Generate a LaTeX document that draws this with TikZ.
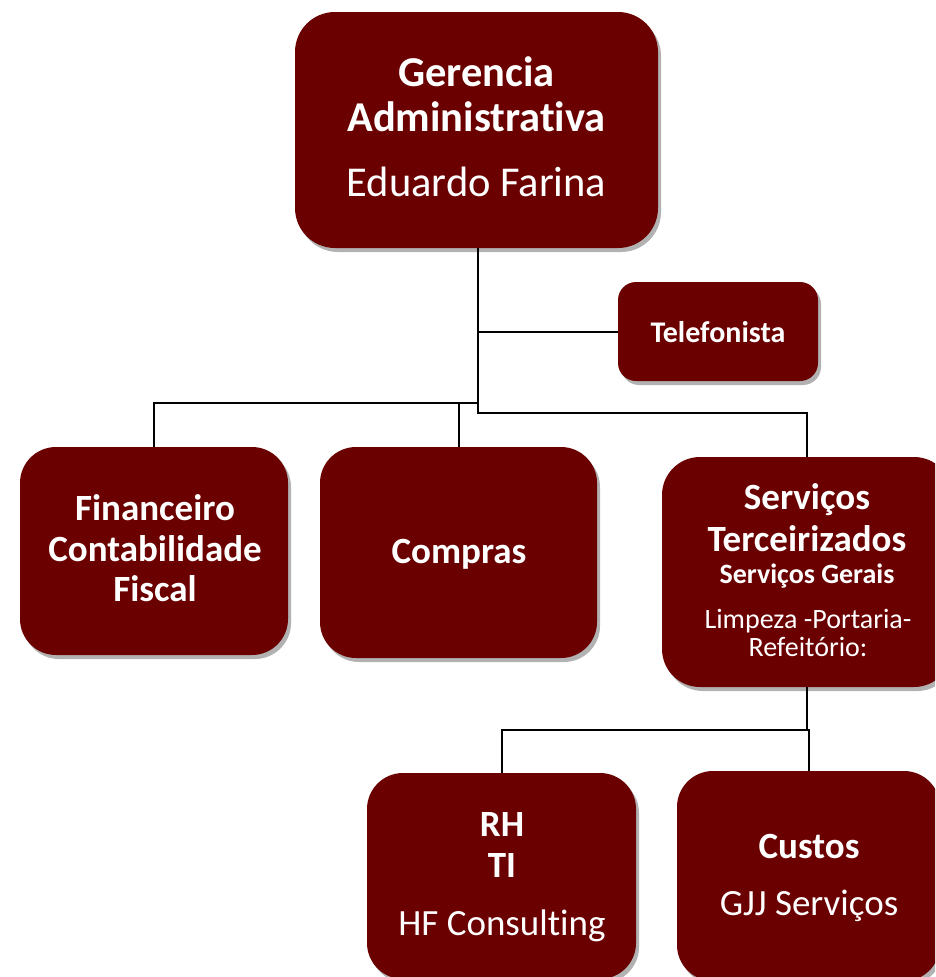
\documentclass[tikz,border=0pt]{standalone}
\usepackage{fontspec}
\setmainfont{Carlito}[Ligatures=NoCommon]
\usetikzlibrary{shadows}
\definecolor{boxred}{HTML}{6B0000}
\begin{document}
\begin{tikzpicture}[x=1pt,y=-1pt,
  box/.style={fill=boxred, draw=none, inner sep=0pt,
    drop shadow={shadow xshift=3pt, shadow yshift=-4pt, opacity=0.3, fill=black}},
  txt/.style={text=white, inner sep=0pt, anchor=base},
  big/.style={font=\fontsize{42.5}{50}\selectfont\bfseries},
  bigr/.style={font=\fontsize{42.5}{50}\selectfont},
  mid/.style={font=\fontsize{37}{44}\selectfont\bfseries},
  midr/.style={font=\fontsize{37}{44}\selectfont},
  sml/.style={font=\fontsize{28}{34}\selectfont\bfseries},
  smlr/.style={font=\fontsize{28}{34}\selectfont},
  tels/.style={font=\fontsize{30}{36}\selectfont\bfseries},
  conn/.style={draw=black, line width=2pt}]
\useasboundingbox (0,0) rectangle (935,977);
\clip (0,0) rectangle (935,977);
% boxes
\node[box, rounded corners=40pt, minimum width=363pt, minimum height=236pt] (top) at (476.5,130) {};
\node[box, rounded corners=18pt, minimum width=200pt, minimum height=99pt] (tel) at (718,331.5) {};
\node[box, rounded corners=36pt, minimum width=268pt, minimum height=208pt] (fin) at (154,551) {};
\node[box, rounded corners=36pt, minimum width=277pt, minimum height=211pt] (comp) at (458.5,552.5) {};
\node[box, rounded corners=38pt, minimum width=290pt, minimum height=230pt] (serv) at (807,572) {};
\node[box, rounded corners=36pt, minimum width=269pt, minimum height=206pt] (rh) at (501.5,876) {};
\node[box, rounded corners=36pt, minimum width=263pt, minimum height=210pt] (cus) at (808.5,876) {};
% texts
\node[txt, big] (t1) at (476.5,86) {Gerencia};
\node[txt, big] (t2) at (476.5,131.5) {Administrativa};
\node[txt, bigr] (t3) at (476.5,196.5) {Eduardo Farina};
\node[txt, tels] (te1) at (718,342) {Telefonista};
\node[txt, mid] (f1) at (155,520) {Financeiro};
\node[txt, mid] (f2) at (155,561.5) {Contabilidade};
\node[txt, mid] (f3) at (155,601.5) {Fiscal};
\node[txt, mid] (c1) at (459,563) {Compras};
\node[txt, mid] (s1) at (807,509) {Serviços};
\node[txt, mid] (s2) at (807,551) {Terceirizados};
\node[txt, sml] (s3) at (807,583) {Serviços Gerais};
\node[txt, smlr] (s4) at (808,628) {Limpeza -Portaria-};
\node[txt, smlr] (s5) at (808,656) {Refeitório:};
\node[txt, mid] (r1) at (502,836.5) {RH};
\node[txt, mid] (r2) at (502,877.5) {TI};
\node[txt, midr] (r3) at (502,935.5) {HF Consulting};
\node[txt, mid] (k1) at (809,858) {Custos};
\node[txt, midr] (k2) at (809,915) {GJJ Serviços};
% connectors
\coordinate (ja) at (478,403);
\coordinate (jb) at (478,413);
\coordinate (jc) at (807,730);
\draw[conn] (top.south -| ja) -- (jb) -- (jb -| serv.north) -- (serv.north);
\draw[conn] (ja |- tel.west) -- (tel.west);
\draw[conn] (fin.north) -- (fin.north |- ja) -- (ja);
\draw[conn] (comp.north) -- (comp.north |- ja);
\draw[conn] (serv.south) -- (jc) -- (jc -| rh.north) -- (rh.north);
\draw[conn] (jc) -- (cus.north |- jc) -- (cus.north);
\end{tikzpicture}
\end{document}
